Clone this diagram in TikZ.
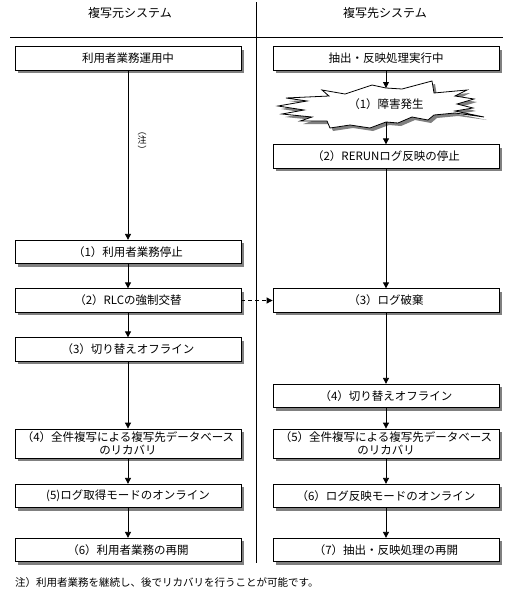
\documentclass[tikz,border=0pt]{standalone}
\usepackage{fontspec}
\setmainfont{Noto Sans CJK JP}
\usetikzlibrary{arrows.meta,shadows}
\begin{document}
\begin{tikzpicture}[x=1pt,y=-1pt,
  box/.style={draw=black, line width=0.8pt, fill=white, minimum width=226pt, minimum height=23.5pt,
    inner sep=1pt, font=\fontsize{11.5}{13.5}\selectfont, align=center,
    drop shadow={shadow xshift=3pt, shadow yshift=-3pt, fill=black!50, opacity=1}},
  tall/.style={minimum height=29pt},
  arr/.style={line width=0.8pt, -{Triangle[width=6pt,length=6pt]}},
  darr/.style={arr, dash pattern=on 4pt off 3pt},
  head/.style={font=\fontsize{12}{14}\selectfont},
  burstpath/.style={insert path={(322,90) -- (345,94) -- (372,85) -- (386,88) -- (402,89) -- (432,81) -- (434,93)
     -- (467,90) -- (455,96) -- (474,99) -- (457,104) -- (473,108) -- (455,111) -- (484,117) -- (455,113)
     -- (434,115) -- (428,120) -- (412,117) -- (398,123) -- (386,122) -- (370,128) -- (350,125) -- (330,128)
     -- (327,121) -- (300,121) -- (312,117) -- (282,114) -- (304,110) -- (278,106) -- (307,101)
     -- (286,98) -- (329,96) -- cycle}}
]
\useasboundingbox (0,0) rectangle (512,598);
% headers and separators
\node[head] (hL) at (130,13) {複写元システム};
\node[head] (hR) at (385,13) {複写先システム};
\draw[line width=0.8pt] (10,37) -- (503,37);
\draw[line width=0.8pt] (256,2) -- (256,563);

% left column
\node[box] (L0) at (128,58.5) {利用者業務運用中};
\node[box] (L1) at (128,252) {（1）利用者業務停止};
\node[box] (L2) at (128,300.5) {（2）RLCの強制交替};
\node[box] (L3) at (128,349.5) {（3）切り替えオフライン};
\node[box,tall] (L4) at (128,443.5) {（4）全件複写による複写先データベース\\のリカバリ};
\node[box] (L5) at (128,496) {(5)ログ取得モードのオンライン};
\node[box] (L6) at (128,550) {（6）利用者業務の再開};

% right column
\node[box] (R0) at (386,58.5) {抽出・反映処理実行中};
\fill[black!50, shift={(3,3)}] [burstpath];
\draw[line width=0.8pt, fill=white] [burstpath];
\node[font=\fontsize{11.5}{13.5}\selectfont] (B) at (386,104) {（1）障害発生};
\coordinate (Btop) at (386,88);
\coordinate (Bbot) at (386,122);
\node[box] (R2) at (386,156.5) {（2）RERUNログ反映の停止};
\node[box] (R3) at (386,300.5) {（3）ログ破棄};
\node[box] (R4) at (386,396) {（4）切り替えオフライン};
\node[box,tall] (R5) at (386,443.5) {（5）全件複写による複写先データベース\\のリカバリ};
\node[box] (R6) at (386,496) {（6）ログ反映モードのオンライン};
\node[box] (R7) at (386,550) {（7）抽出・反映処理の再開};

% note label on long arrow
\node[font=\fontsize{9}{8}\selectfont, align=center, inner sep=0pt] (nl) at (142,143) {︵\\注\\︶};

% left connectors
\draw[arr] (L0) -- (L1);
\draw[arr] (L1) -- (L2);
\draw[arr] (L2) -- (L3);
\draw[arr] (L3) -- (L4);
\draw[arr] (L4) -- (L5);
\draw[arr] (L5) -- (L6);
% right connectors
\draw[arr] (R0) -- (Btop);
\draw[arr] (Bbot) -- (R2);
\draw[arr] (R2) -- (R3);
\draw[arr] (R3) -- (R4);
\draw[arr] (R4) -- (R5);
\draw[arr] (R5) -- (R6);
\draw[arr] (R6) -- (R7);
% cross connector
\draw[darr] (L2) -- (R3);

% footnote
\node[anchor=west, font=\fontsize{10.5}{12}\selectfont, inner sep=0pt] (note) at (15,583) {注）利用者業務を継続し、後でリカバリを行うことが可能です。};
\end{tikzpicture}
\end{document}
